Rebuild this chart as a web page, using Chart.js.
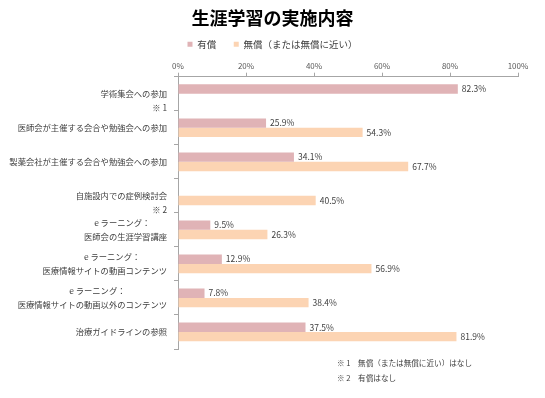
<!DOCTYPE html>
<html>
<head>
<meta charset="utf-8">
<script src="https://cdn.jsdelivr.net/npm/chart.js@4/dist/chart.umd.min.js"></script>
<style>
	body { margin: 0; background: #fff; }
	#wrap { width: 545px; height: 398px; }
</style>
</head>
<body>
<div id="wrap"><canvas id="myChart"></canvas></div>
<script>
const FONT = '"Noto Sans CJK JP", "Noto Sans", sans-serif';

const categories = [
	['', '学術集会への参加', '※ 1'],
	'医師会が主催する会合や勉強会への参加',
	'製薬会社が主催する会合や勉強会への参加',
	['', '自施設内での症例検討会', '※ 2'],
	['e ラーニング：　　', '医師会の生涯学習講座'],
	['e ラーニング：　　　 ', '医療情報サイトの動画コンテンツ'],
	['e ラーニング：　　　　　', '医療情報サイトの動画以外のコンテンツ'],
	'治療ガイドラインの参照'
];
const seriesNames = ['有償　', '無償（または無償に近い）'];
const paidValues = [82.3, 25.9, 34.1, null, 9.5, 12.9, 7.8, 37.5];
const freeValues = [null, 54.3, 67.7, 40.5, 26.3, 56.9, 38.4, 81.9];
const notes = ['※ 1　無償（または無償に近い）はなし', '※ 2　有償はなし'];

const ctx = document.getElementById('myChart');

// percent labels at the end of each bar
const valueLabels = {
	id: 'valueLabels',
	afterDatasetsDraw(chart) {
		const c = chart.ctx;
		c.save();
		c.font = '8.5px ' + FONT;
		c.fillStyle = '#404040';
		c.textBaseline = 'middle';
		c.textAlign = 'left';
		chart.data.datasets.forEach((ds, i) => {
			chart.getDatasetMeta(i).data.forEach((bar, j) => {
				const v = ds.data[j];
				if (v === null || v === undefined) return;
				c.fillText(v.toFixed(1) + '%', bar.x + 4, bar.y);
			});
		});
		c.restore();
	}
};

// footnotes under the plot
const footNotes = {
	id: 'footNotes',
	afterDraw(chart) {
		const c = chart.ctx;
		const area = chart.chartArea;
		c.save();
		c.font = '7.6px ' + FONT;
		c.fillStyle = '#404040';
		c.textBaseline = 'middle';
		c.textAlign = 'left';
		notes.forEach((txt, i) => {
			c.fillText(txt, area.right - 181, area.bottom + 14 + i * 15);
		});
		c.restore();
	}
};

new Chart(ctx, {
	type: 'bar',
	data: {
		labels: categories,
		datasets: [
			{
				label: seriesNames[0],
				data: paidValues,
				backgroundColor: '#E0B3B6',
				borderWidth: 0
			},
			{
				label: seriesNames[1],
				data: freeValues,
				backgroundColor: '#FCD4B3',
				borderWidth: 0
			}
		]
	},
	options: {
		indexAxis: 'y',
		responsive: true,
		maintainAspectRatio: false,
		animation: false,
		categoryPercentage: 0.55,
		barPercentage: 1,
		layout: { padding: { top: 0, left: 0, right: 0, bottom: 49 } },
		plugins: {
			title: {
				display: true,
				text: '生涯学習の実施内容',
				color: '#000',
				font: { family: FONT, size: 18, weight: 'bold' },
				padding: { top: 7, bottom: 3 }
			},
			legend: {
				position: 'top',
				labels: {
					boxWidth: 5,
					boxHeight: 5,
					padding: 8,
					color: '#404040',
					font: { family: FONT, size: 9.5 }
				}
			},
			tooltip: { enabled: false }
		},
		scales: {
			x: {
				position: 'top',
				min: 0,
				max: 100,
				afterFit(scale) { scale.paddingRight = 27; },
				ticks: {
					stepSize: 20,
					padding: 2,
					color: '#595959',
					font: { family: FONT, size: 8 },
					callback: v => v + '%'
				},
				grid: { drawOnChartArea: false, drawTicks: true, tickLength: 4, color: '#A6A6A6' },
				border: { color: '#A6A6A6' }
			},
			y: {
				afterFit(scale) { scale.width = 178; },
				ticks: {
					autoSkip: false,
					padding: 7,
					color: '#404040',
					font: { family: FONT, size: 8.3, lineHeight: '14px' }
				},
				grid: { drawOnChartArea: false, drawTicks: true, tickLength: 4, color: '#A6A6A6' },
				border: { color: '#A6A6A6' }
			}
		}
	},
	plugins: [valueLabels, footNotes]
});
</script>
</body>
</html>
